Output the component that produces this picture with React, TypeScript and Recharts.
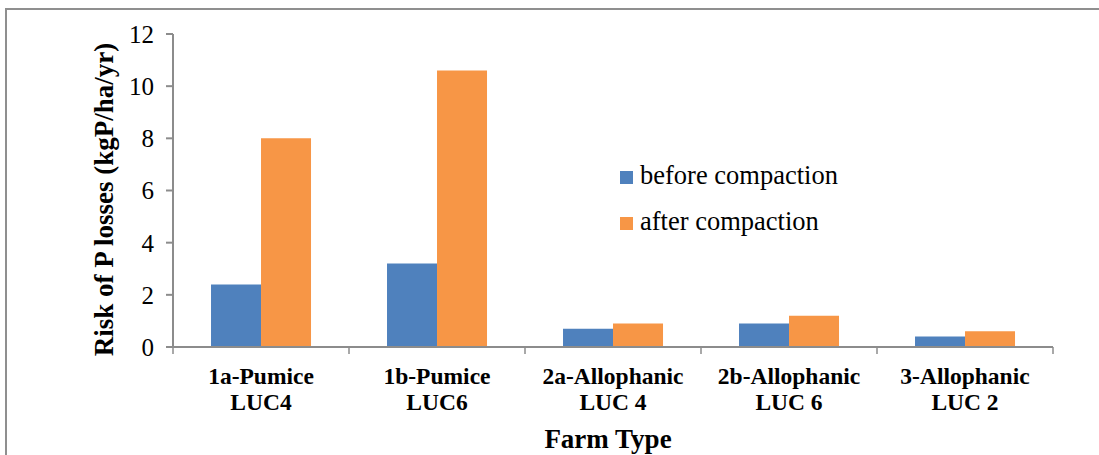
import React from "react";
import { BarChart, Bar, XAxis, YAxis, Legend } from "recharts";

const farmTypes = [
  "1a-Pumice|LUC4",
  "1b-Pumice|LUC6",
  "2a-Allophanic|LUC 4",
  "2b-Allophanic|LUC 6",
  "3-Allophanic|LUC 2",
];
const beforeCompaction = [2.4, 3.2, 0.7, 0.9, 0.4];
const afterCompaction = [8.0, 10.6, 0.9, 1.2, 0.6];
const yTicks = [0, 2, 4, 6, 8, 10, 12];

const data = farmTypes.map((name, i) => ({
  name,
  before: beforeCompaction[i],
  after: afterCompaction[i],
}));

const W = 1099;
const H = 455;
const MARGIN = { top: 34, right: 46, bottom: 28, left: 0 };
const Y_AXIS_W = 173;
const X_AXIS_H = 80;
const PLOT_W = W - MARGIN.left - MARGIN.right - Y_AXIS_W;
const BAND = PLOT_W / farmTypes.length;

const FONT = "Liberation Serif, Tinos, Times New Roman, DejaVu Serif, serif";
const AXIS = "#8c8c8c";
const BLUE = "#4f81bd";
const ORANGE = "#f79646";

function FarmTick(props: any) {
  const { x, y, payload, index } = props;
  const [l1, l2] = String(payload.value).split("|");
  const last = index === farmTypes.length - 1;
  return (
    <g>
      <line x1={x - BAND / 2} y1={y} x2={x - BAND / 2} y2={y + 7} stroke={AXIS} strokeWidth={1.5} />
      {last && (
        <line x1={x + BAND / 2} y1={y} x2={x + BAND / 2} y2={y + 7} stroke={AXIS} strokeWidth={1.5} />
      )}
      <text x={x} y={y + 37} textAnchor="middle" style={{ fontFamily: FONT }} fontWeight="bold" fontSize={23.5} fill="#000">
        {l1}
      </text>
      <text x={x} y={y + 63} textAnchor="middle" style={{ fontFamily: FONT }} fontWeight="bold" fontSize={23.5} fill="#000">
        {l2}
      </text>
    </g>
  );
}

function renderLegend() {
  const items = [
    { label: "before compaction", color: BLUE },
    { label: "after compaction", color: ORANGE },
  ];
  return (
    <div style={{ fontFamily: FONT, fontSize: 26.5, color: "#000" }}>
      {items.map((it) => (
        <div key={it.label} style={{ display: "flex", alignItems: "center", height: 46 }}>
          <span style={{ width: 13, height: 13, background: it.color, marginRight: 7, marginTop: 4 }} />
          <span>{it.label}</span>
        </div>
      ))}
    </div>
  );
}

export default function App() {
  return (
    <div style={{ position: "absolute", left: 0, top: 0, width: W, height: H, overflow: "hidden", background: "#fff", fontFamily: FONT }}>
      <div
        style={{
          position: "absolute",
          left: 5,
          top: 8,
          width: 1300,
          height: 700,
          borderTop: "2px solid #8f8f8f",
          borderLeft: "2px solid #8f8f8f",
        }}
      />
      <div style={{ position: "absolute", left: 0, top: 0 }}>
        <BarChart width={W} height={H} data={data} margin={MARGIN} barCategoryGap="21.6%" barGap={0}>
          <XAxis
            dataKey="name"
            height={X_AXIS_H}
            stroke={AXIS}
            strokeWidth={2}
            tickLine={false}
            tickSize={0}
            tickMargin={0}
            interval={0}
            tick={<FarmTick />}
            label={{
              content: ({ viewBox }: any) => (
                <text
                  x={viewBox.x + viewBox.width / 2 - 5}
                  y={viewBox.y + 101}
                  textAnchor="middle"
                  style={{ fontFamily: FONT }}
                  fontWeight="bold"
                  fontSize={27}
                  fill="#000"
                >
                  Farm Type
                </text>
              ),
            }}
          />
          <YAxis
            width={Y_AXIS_W}
            domain={[0, 12]}
            ticks={yTicks}
            interval={0}
            stroke={AXIS}
            strokeWidth={2}
            tickSize={7}
            tickMargin={12}
            tick={{ fill: "#000", style: { fontFamily: FONT }, fontSize: 25 }}
            label={{
              content: ({ viewBox }: any) => {
                const cx = viewBox.x + 104;
                const cy = viewBox.y + viewBox.height / 2 + 9;
                return (
                  <text
                    x={cx}
                    y={cy}
                    transform={`rotate(-90 ${cx} ${cy})`}
                    textAnchor="middle"
                    dominantBaseline="central"
                    style={{ fontFamily: FONT }}
                    fontWeight="bold"
                    fontSize={27}
                    fill="#000"
                  >
                    Risk of P losses (kgP/ha/yr)
                  </text>
                );
              },
            }}
          />
          <Legend
            layout="horizontal"
            verticalAlign="middle"
            content={renderLegend}
            wrapperStyle={{ left: 620, top: 152, width: "auto" }}
          />
          <Bar dataKey="before" name="before compaction" fill={BLUE} isAnimationActive={false} />
          <Bar dataKey="after" name="after compaction" fill={ORANGE} isAnimationActive={false} />
        </BarChart>
      </div>
    </div>
  );
}
